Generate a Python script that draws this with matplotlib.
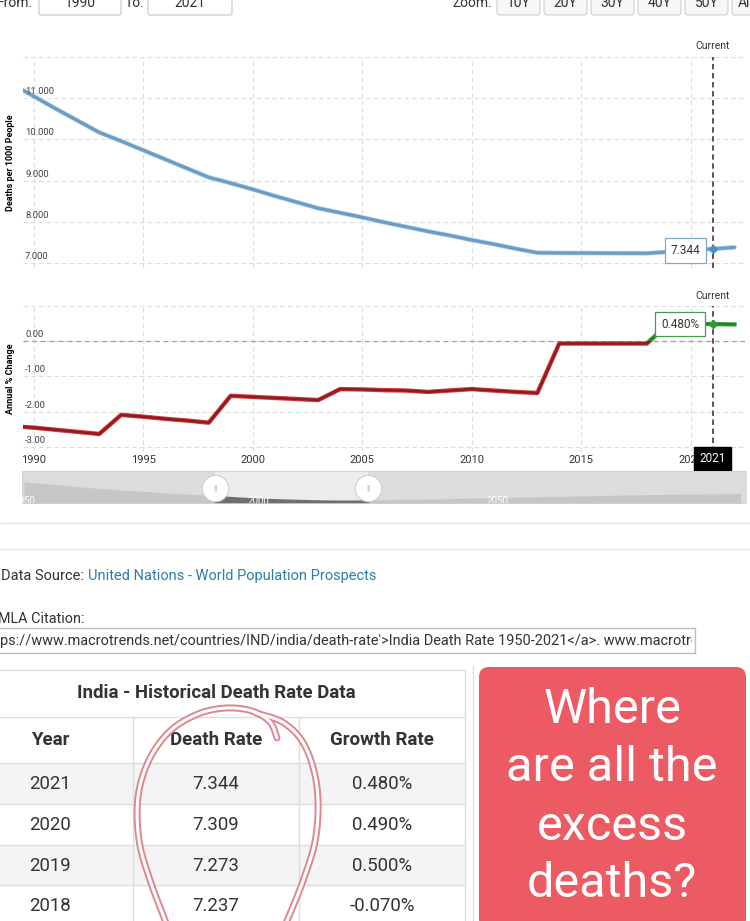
import numpy as np
import matplotlib.pyplot as plt
import matplotlib.patheffects as pe
from matplotlib.patches import Rectangle, FancyBboxPatch

plt.rcParams['font.family'] = ['Roboto', 'DejaVu Sans']

# India crude death rate (deaths per 1000 people) and its annual % change
years = list(range(1989, 2023))
death_rate = [11.35, 11.05, 10.75, 10.46, 10.17, 9.96, 9.74, 9.52, 9.30, 9.08,
              8.94, 8.79, 8.63, 8.48, 8.33, 8.22, 8.11, 7.99, 7.88, 7.77,
              7.67, 7.56, 7.46, 7.35, 7.25, 7.245, 7.243, 7.241, 7.239, 7.237,
              7.273, 7.309, 7.344, 7.379]
growth_rate = [-2.41, -2.45, -2.51, -2.57, -2.63, -2.09, -2.14, -2.20, -2.25, -2.31,
               -1.55, -1.58, -1.61, -1.64, -1.67, -1.36, -1.37, -1.39, -1.40, -1.44,
               -1.40, -1.36, -1.40, -1.44, -1.47, -0.07, -0.07, -0.07, -0.07, -0.07,
               0.50, 0.49, 0.48, 0.47]
current_year = 2021
current_rate = 7.344
current_growth = 0.480

# navigator (whole 1950-2100 series, 5-year steps)
nav_years = list(range(1950, 2101, 5))
nav_rate = [22.2, 20.4, 18.6, 17.0, 15.5, 14.3, 13.0, 12.0, 11.0, 9.8, 8.8, 8.1,
            7.6, 7.24, 7.31, 7.5, 7.8, 8.1, 8.5, 8.9, 9.3, 9.7, 10.1, 10.5, 10.9,
            11.3, 11.6, 11.9, 12.1, 12.3, 12.5]
nav_range = (1990, 2022)

# table rows
table_years = ["2021", "2020", "2019", "2018"]
table_rate = ["7.344", "7.309", "7.273", "7.237"]
table_growth = ["0.480%", "0.490%", "0.500%", "-0.070%"]

W, H = 750, 921
TXT = '#333333'
GRID = '#dcdcdc'
XLIM = (1989.52, 2022.48)
fig = plt.figure(figsize=(W / 100, H / 100), dpi=100)


def px_axes(x0, y0, x1, y1, **kw):
    return fig.add_axes([x0 / W, 1 - y1 / H, (x1 - x0) / W, (y1 - y0) / H], **kw)


bg = px_axes(0, 0, W, H)
bg.set_xlim(0, W)
bg.set_ylim(H, 0)
bg.axis('off')

# ---- top controls (cut off at the top of the screenshot)
bg.text(-3, 3, "From:", fontsize=10, color=TXT, va='center')
for x0, x1, label in [(39, 121, "1990"), (148, 232, "2021")]:
    bg.add_patch(FancyBboxPatch((x0, -12), x1 - x0, 27, boxstyle='round,pad=0,rounding_size=2',
                                fc='white', ec='#c8c8c8', lw=0.8))
    bg.text((x0 + x1) / 2, 3, label, fontsize=10, color=TXT, ha='center', va='center')
bg.text(125, 3, "To:", fontsize=10, color=TXT, va='center')
bg.text(492, 3, "Zoom:", fontsize=10, color=TXT, va='center', ha='right')
for i, label in enumerate(["10Y", "20Y", "30Y", "40Y", "50Y", "All"]):
    x0 = 497 + i * 47
    bg.add_patch(FancyBboxPatch((x0, -12), 43, 27, boxstyle='round,pad=0,rounding_size=3',
                                fc='#f7f7f7', ec='#cfcfcf', lw=0.8))
    bg.text(x0 + 21.5 if label != "All" else x0 + 14, 3, label, fontsize=10, color=TXT,
            ha='center', va='center')


def style_axes(ax):
    ax.grid(True, ls=(0, (4, 3)), color=GRID, lw=0.8)
    ax.tick_params(length=0, labelleft=False)
    for s in ax.spines.values():
        s.set_visible(False)
    ax.set_axisbelow(True)


# ---- top chart: death rate
ax1 = px_axes(23, 57, 745, 268)
ax1.set_xlim(*XLIM)
ax1.set_ylim(6.88, 12.0)
ax1.set_xticks(range(1990, 2021, 5))
ax1.set_yticks([7, 8, 9, 10, 11, 12])
style_axes(ax1)
ax1.tick_params(labelbottom=False)
ax1.plot(years, death_rate, color='#6a9dc6', lw=2.3, solid_capstyle='round',
         path_effects=[pe.Stroke(linewidth=3.4, foreground='#b7d3e8'), pe.Normal()])
for v in [7, 8, 9, 10, 11]:
    ax1.text(0.003, v + 0.05, f"{v:.3f}", transform=ax1.get_yaxis_transform(),
             fontsize=6.8, color='#444444', va='bottom')
ax1.set_ylabel("Deaths per 1000 People", fontsize=6.5, fontweight='bold', labelpad=6)
ax1.axvline(current_year, color='#5a4040', ls=(0, (3, 2)), lw=1.3)
ax1.text(current_year, 1.052, "Current", transform=ax1.get_xaxis_transform(),
         ha='center', va='center', fontsize=7.5, color=TXT)
ax1.plot([current_year], [current_rate], marker='D', ms=4.5, color='#4f8fc4', zorder=5)
ax1.annotate(f"{current_rate:.3f}", xy=(current_year, current_rate), xytext=(-19.5, -1),
             textcoords='offset points', ha='center', va='center', fontsize=8.5, color=TXT,
             bbox=dict(boxstyle='square,pad=0.5', fc='white', ec='#7fa9c9', lw=0.9),
             zorder=6)

# ---- bottom chart: annual % change
G_YLIM = (-3.14, 1.0)
ax2 = px_axes(23, 305.7, 745, 452)
ax2.set_xlim(*XLIM)
ax2.set_ylim(*G_YLIM)
ax2.set_xticks(range(1990, 2021, 5))
ax2.set_yticks([-3, -2, -1, 0, 1])
style_axes(ax2)
ax2.tick_params(labelbottom=True, labelsize=8, labelcolor=TXT, pad=2)
ax2.axhline(0, color='#a0a0a0', ls=(0, (4, 3)), lw=0.9, zorder=1)
red, = ax2.plot(years, growth_rate, color='#8e1c1e', lw=1.8,
                path_effects=[pe.Stroke(linewidth=3.2, foreground='#d33b3b'), pe.Normal()])
green, = ax2.plot(years, growth_rate, color='#237d2a', lw=1.8,
                  path_effects=[pe.Stroke(linewidth=3.2, foreground='#3fae45'), pe.Normal()])
# negative part red, positive part green (clip rectangles stay inside the plot area)
red.set_clip_path(Rectangle((XLIM[0], G_YLIM[0]), XLIM[1] - XLIM[0], -G_YLIM[0],
                            transform=ax2.transData))
green.set_clip_path(Rectangle((XLIM[0], 0), XLIM[1] - XLIM[0], G_YLIM[1],
                              transform=ax2.transData))
for v in [0, -1, -2, -3]:
    ax2.text(0.003, v + 0.06, f"{v:.2f}", transform=ax2.get_yaxis_transform(),
             fontsize=6.8, color='#444444', va='bottom')
ax2.set_ylabel("Annual % Change", fontsize=6.5, fontweight='bold', labelpad=6)
ax2.axvline(current_year, color='#5a4040', ls=(0, (3, 2)), lw=1.3)
ax2.text(current_year, 1.066, "Current", transform=ax2.get_xaxis_transform(),
         ha='center', va='center', fontsize=7.5, color=TXT)
ax2.plot([current_year], [current_growth], marker='D', ms=4.5, color='#2e9a35', zorder=5)
ax2.annotate(f"{current_growth:.3f}%", xy=(current_year, current_growth), xytext=(-23.5, 0),
             textcoords='offset points', ha='center', va='center', fontsize=8.5, color=TXT,
             bbox=dict(boxstyle='square,pad=0.5', fc='white', ec='#4a9a4f', lw=0.9),
             zorder=6)
ax2.annotate(str(current_year), xy=(current_year, 0), xycoords=('data', 'axes fraction'),
             xytext=(0, -5), textcoords='offset points', ha='center', va='center',
             fontsize=8.5, color='white', annotation_clip=False,
             bbox=dict(boxstyle='square,pad=0.45', fc='black', ec='black'), zorder=10)

# ---- navigator
N_XLIM = (1949.6, 2101.1)
N_YLIM = (4.8, 31)
nav = px_axes(22, 471, 746, 503)
nav.set_xlim(*N_XLIM)
nav.set_ylim(*N_YLIM)
nav.set_facecolor('#dcdcdc')
nav.set_xticks([])
nav.set_yticks([])
for s in nav.spines.values():
    s.set_color('#d0d0d0')
    s.set_linewidth(0.6)
nav.fill_between(nav_years, nav_rate, 0, color='#c6c6c6', lw=0)
nav.axvspan(*nav_range, color='#ececec', lw=0)
sel = nav.fill_between(nav_years, nav_rate, 0, color='#6f6f6f', lw=0)
sel.set_clip_path(Rectangle((nav_range[0], N_YLIM[0]), nav_range[1] - nav_range[0],
                            N_YLIM[1] - N_YLIM[0], transform=nav.transData))
for yr, lab in [(1950, "1950"), (1999, "2000"), (2049, "2050")]:
    nav.text(yr, 6.5, lab, fontsize=7, color='white', ha='center', va='center', clip_on=True)
for yr in nav_range:
    nav.plot([yr], [17], marker='o', ms=19, mfc='white', mec='#cfcfcf', mew=0.8,
             clip_on=False, zorder=5)
    nav.text(yr, 17, "||", fontsize=6, color='#a0a0a0', ha='center', va='center', zorder=6)

# ---- separators, source, citation
bg.hlines([523, 549], 0, W, color='#e4e4e4', lw=1)
src = bg.text(1, 576, "Data Source: ", fontsize=10.5, color=TXT, va='center')
bg.annotate("United Nations - World Population Prospects", xy=(1, 0.5), xycoords=src,
            va='center', fontsize=10.5, color='#2f7ea6')
bg.text(-2, 619, "MLA Citation:", fontsize=10.4, color=TXT, va='center')
cite_box = Rectangle((-5, 628), 700, 25, fc='white', ec='#bdbdbd', lw=1)
bg.add_patch(cite_box)
cite = bg.text(0, 640.5, "ps://www.macrotrends.net/countries/IND/india/death-rate'>India Death "
               "Rate 1950-2021</a>. www.macrotrends.net. Retrieved", fontsize=10.45,
               color=TXT, va='center')
cite.set_clip_path(Rectangle((-5, 628), 697, 25, transform=bg.transData))
cite.set_clip_on(True)

# ---- table
bg.add_patch(Rectangle((-5, 670), 470, 260, fc='white', ec='#dddddd', lw=1))
bg.text(216, 693, "India - Historical Death Rate Data", fontsize=13.4, fontweight='bold',
        color=TXT, ha='center', va='center')
row_top = [763, 804, 845, 885]
row_h = 41
for i, yt in enumerate(row_top):
    if i % 2 == 0:
        bg.add_patch(Rectangle((-5, yt), 470, row_h, fc='#f4f4f4', lw=0))
bg.hlines([717, 763] + row_top[1:], -5, 465, color='#dddddd', lw=1)
bg.vlines([133, 299], 717, H, color='#dddddd', lw=1)
col_x = [50, 216, 382]
for x, head in zip(col_x, ["Year", "Death Rate", "Growth Rate"]):
    bg.text(x, 740, head, fontsize=13.5, fontweight='bold', color=TXT, ha='center', va='center')
for i, yt in enumerate(row_top):
    for x, val in zip(col_x, [table_years[i], table_rate[i], table_growth[i]]):
        bg.text(x, yt + row_h / 2, val, fontsize=13.4, color=TXT, ha='center', va='center')


def catmull(pts, n=24):
    p = np.asarray(pts, float)
    p = np.vstack([p[0], p, p[-1]])
    out = []
    t = np.linspace(0, 1, n, endpoint=False)[:, None]
    for i in range(1, len(p) - 2):
        p0, p1, p2, p3 = p[i - 1], p[i], p[i + 1], p[i + 2]
        out.append(0.5 * (2 * p1 + (-p0 + p2) * t + (2 * p0 - 5 * p1 + 4 * p2 - p3) * t ** 2
                          + (-p0 + 3 * p1 - 3 * p2 + p3) * t ** 3))
    out.append(p[-2][None])
    return np.vstack(out)


# hand drawn loop around the death rate column
left_stroke = [(277, 738), (270, 722), (252, 711), (226, 708), (198, 714), (170, 731),
               (149, 760), (138, 797), (139, 840), (150, 880), (168, 928)]
right_stroke = [(256, 713), (284, 723), (305, 746), (317, 787), (316, 836), (303, 881), (284, 928)]
for stroke in (left_stroke, right_stroke):
    c = catmull(stroke)
    bg.plot(c[:, 0], c[:, 1], color='#de8790', lw=5, solid_capstyle='round', zorder=8)
    bg.plot(c[:, 0], c[:, 1], color='white', lw=2.2, solid_capstyle='round', zorder=9)

# ---- red question box
bg.vlines(473, 665, H, color='#dedede', lw=1)
bg.add_patch(FancyBboxPatch((479, 667), 267, 262, boxstyle='round,pad=0,rounding_size=10',
                            fc='#ec5a63', ec='none', zorder=5))
for y, line in zip([710, 768, 827, 884], ["Where", "are all the", "excess", "deaths?"]):
    bg.text(612, y, line, fontsize=35, color='white', ha='center', va='center', zorder=6)

fig.savefig("out.png", dpi=100)
